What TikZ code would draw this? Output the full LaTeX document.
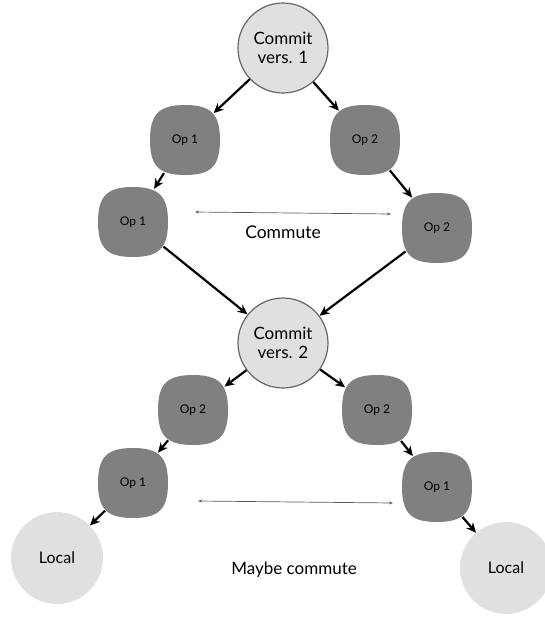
\documentclass[tikz,border=0pt]{standalone}
\usepackage{fontspec}
\setmainfont{Lato}
\usetikzlibrary{arrows.meta,positioning}
\definecolor{opgray}{RGB}{128,128,128}
\definecolor{lightgray}{RGB}{224,224,224}
\tikzset{>={Stealth[length=10pt,width=9pt]},auto}
\tikzset{commit/.style={circle,draw=black!60,line width=1.2pt,fill=lightgray,minimum size=90pt,inner sep=0pt,align=center,font=\fontsize{17}{19}\selectfont}}
% squircle drawn inside a round node, so that arrows meet its rim
\tikzset{op/.style={circle,minimum size=78pt,inner sep=0pt,font=\fontsize{12}{13}\selectfont,
    path picture={\coordinate (q) at (path picture bounding box.center);
        \fill[opgray] ([shift={(35pt,0pt)}]q)
        .. controls ([shift={(35pt,26pt)}]q) and ([shift={(26pt,35pt)}]q) .. ([shift={(0pt,35pt)}]q)
        .. controls ([shift={(-26pt,35pt)}]q) and ([shift={(-35pt,26pt)}]q) .. ([shift={(-35pt,0pt)}]q)
        .. controls ([shift={(-35pt,-26pt)}]q) and ([shift={(-26pt,-35pt)}]q) .. ([shift={(0pt,-35pt)}]q)
        .. controls ([shift={(26pt,-35pt)}]q) and ([shift={(35pt,-26pt)}]q) .. ([shift={(35pt,0pt)}]q) -- cycle;}}}
\tikzset{local/.style={circle,fill=lightgray,minimum size=92pt,inner sep=0pt,font=\fontsize{16}{18}\selectfont}}
\tikzset{flow/.style={->,line width=2.2pt,shorten >=0pt}}
\tikzset{swapline/.style={{Stealth[length=4pt,width=3pt]}-{Stealth[length=4pt,width=3pt]},line width=0.7pt,draw=black!65}}

\begin{document}
\begin{tikzpicture}[x=1pt,y=-1pt]
    \useasboundingbox (0,0) rectangle (545,625);
    % commits
    \node[commit] (c1) at (283,48)  {Commit\\vers. 1};
    \node[commit] (c2) at (283,343) {Commit\\vers. 2};
    % upper diamond
    \node[op] (up1a) at (185,140) {Op 1};
    \node[op] (up2a) at (365,140) {Op 2};
    \node[op] (up1b) at (133,222) {Op 1};
    \node[op] (up2b) at (437,228) {Op 2};
    % lower branches
    \node[op] (lo2a) at (193,410) {Op 2};
    \node[op] (lo2b) at (377,410) {Op 2};
    \node[op] (lo1a) at (133,483) {Op 1};
    \node[op] (lo1b) at (437,487) {Op 1};
    \node[local] (loca) at (57,558)  {Local};
    \node[local] (locb) at (506,568) {Local};
    % labels
    \node (commute) at (283,232) {\fontsize{17.5}{20}\selectfont Commute};
    \node (maybe) at (294,570) {\fontsize{17}{20}\selectfont Maybe commute};
    \coordinate (cl) at (195,212);
    \coordinate (cr) at (391,214);
    \coordinate (ml) at (198,501);
    \coordinate (mr) at (393,503);
    \path[flow]
        (c1) edge (up1a)
        (c1) edge (up2a)
        (up1a) edge (up1b)
        (up2a) edge (up2b)
        (up1b) edge (c2)
        (up2b) edge (c2)
        (c2) edge (lo2a)
        (c2) edge (lo2b)
        (lo2a) edge (lo1a)
        (lo2b) edge (lo1b)
        (lo1a) edge (loca)
        (lo1b) edge (locb);
    \draw[swapline] (cl) -- (cr);
    \draw[swapline] (ml) -- (mr);
\end{tikzpicture}
\end{document}
